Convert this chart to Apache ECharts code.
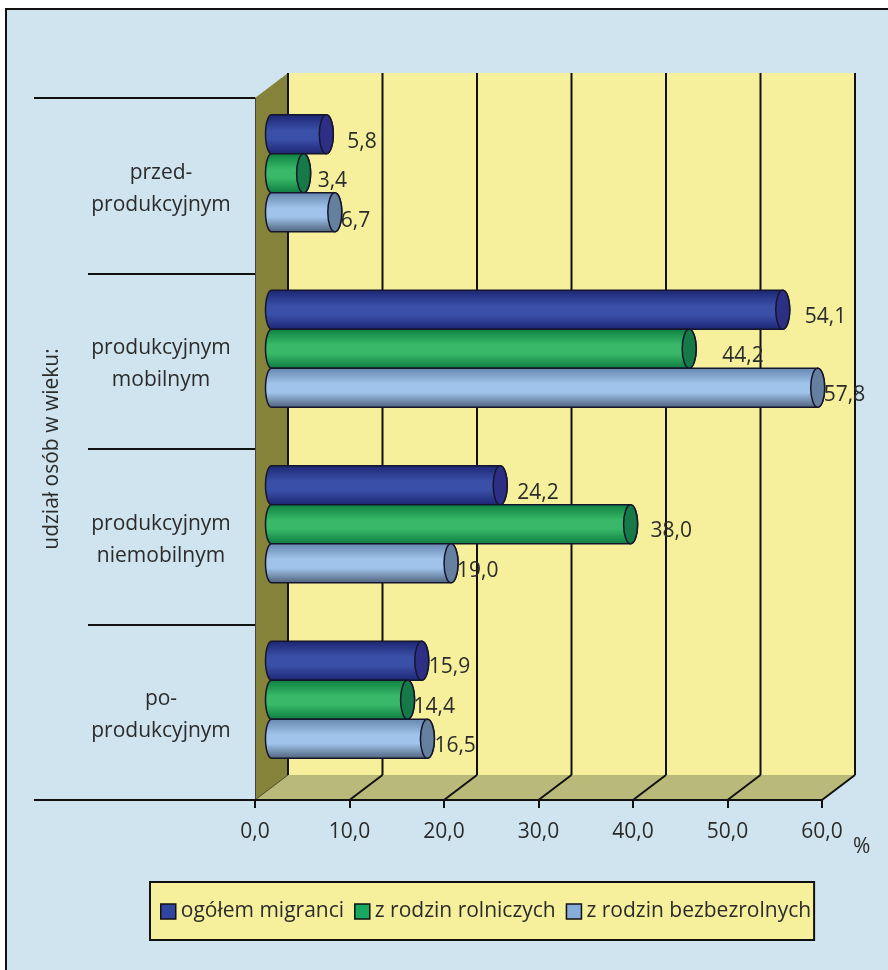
<!DOCTYPE html>
<html>
<head>
<meta charset="utf-8">
<title>udział osób w wieku</title>
<script src="https://cdn.jsdelivr.net/npm/echarts@6/dist/echarts.min.js"></script>
<style>
  html, body { margin: 0; padding: 0; background: #fff; }
  #main { width: 888px; height: 970px; }
</style>
</head>
<body>
<div id="main"></div>
<script>
const categories = ['przed-\nprodukcyjnym', 'produkcyjnym\nmobilnym', 'produkcyjnym\nniemobilnym', 'po-\nprodukcyjnym'];
const seriesNames = ['ogółem migranci', 'z rodzin rolniczych', 'z rodzin bezbezrolnych'];
const ogolem = [5.8, 54.1, 24.2, 15.9];
const rolniczych = [3.4, 44.2, 38.0, 14.4];
const bezrolnych = [6.7, 57.8, 19.0, 16.5];
const xTicks = [0, 10, 20, 30, 40, 50, 60];

const FONT = '"Open Sans"';
const FONT_SIZE = 21;
const TEXT = '#2b2b2b';
const DEPTH_X = 33, DEPTH_Y = 25; // glebokosc "3D" wykresu
const BAR_H = 39, CAP_RX = 7;

// etykiety w oryginale sa rozmieszczone nieregularnie
const labelDx = [[21, 22, 17, 7], [14, 33, 20, 6], [6, 6, 6, 7]];
const labelDy = [[8, 7, 8, 6], [8, 7, 7, 7], [9, 7, 8, 7]];

const looks = [
  { top: '#1b2570', mid: '#3a4fa8', bottom: '#1c2472', cap: '#2d2f85', legend: '#2f45a0' },
  { top: '#0c7f3f', mid: '#38b868', bottom: '#0d7a40', cap: '#157a48', legend: '#18a860' },
  { top: '#6585ad', mid: '#9fc3ea', bottom: '#4d5f78', cap: '#657f9f', legend: '#86aed8' }
];

function fmt(v) {
  return v.toFixed(1).replace('.', ',');
}

// obrys walca: lewy luk + prawy luk
function cylinderPoints(x0, x1, yc) {
  const pts = [];
  const n = 16;
  for (let i = 0; i <= n; i++) {
    const a = -Math.PI / 2 + Math.PI * i / n;
    pts.push([x1 + CAP_RX * Math.cos(a), yc + BAR_H / 2 * Math.sin(a)]);
  }
  for (let i = 0; i <= n; i++) {
    const a = Math.PI / 2 + Math.PI * i / n;
    pts.push([x0 + 6 * Math.cos(a), yc + BAR_H / 2 * Math.sin(a)]);
  }
  return pts;
}

function renderBar(idx) {
  return function (params, api) {
    const look = looks[idx];
    const cat = api.value(1);
    const start = api.coord([0, cat]);
    const end = api.coord([api.value(0), cat]);
    const x0 = start[0] + DEPTH_X / 2;
    const x1 = end[0] + DEPTH_X / 2;
    const yc = end[1] - DEPTH_Y / 2 + (idx - 1) * BAR_H;
    return {
      type: 'group',
      children: [
        {
          type: 'polygon',
          shape: { points: cylinderPoints(x0, x1, yc) },
          style: {
            stroke: '#15152c',
            lineWidth: 1.5,
            fill: new echarts.graphic.LinearGradient(0, 0, 0, 1, [
              { offset: 0, color: look.top },
              { offset: 0.4, color: look.mid },
              { offset: 0.62, color: look.mid },
              { offset: 1, color: look.bottom }
            ])
          }
        },
        {
          type: 'ellipse',
          shape: { cx: x1, cy: yc, rx: CAP_RX, ry: BAR_H / 2 },
          style: { fill: look.cap, stroke: '#15152c', lineWidth: 1.5 }
        },
        {
          type: 'text',
          style: {
            x: x1 + labelDx[idx][cat],
            y: yc + labelDy[idx][cat],
            text: fmt(api.value(0)),
            align: 'left',
            verticalAlign: 'middle',
            fill: TEXT,
            font: FONT_SIZE + 'px ' + FONT
          }
        }
      ]
    };
  };
}

// sciany wykresu, siatka na tylnej scianie, opisy kategorii
function renderWalls(params, api) {
  const r = params.coordSys;
  const left = r.x, top = r.y, right = r.x + r.width, bottom = r.y + r.height;
  const line = (x1, y1, x2, y2, width, color) => ({
    type: 'line',
    shape: { x1, y1, x2, y2 },
    style: { stroke: color || '#111', lineWidth: width || 2 }
  });
  const poly = (points, fill) => ({ type: 'polygon', shape: { points }, style: { fill } });
  const children = [
    poly([[left + DEPTH_X, top - DEPTH_Y], [right + DEPTH_X, top - DEPTH_Y], [right + DEPTH_X, bottom - DEPTH_Y], [left + DEPTH_X, bottom - DEPTH_Y]], '#f6f09c'),
    poly([[left, top], [left + DEPTH_X, top - DEPTH_Y], [left + DEPTH_X, bottom - DEPTH_Y], [left, bottom]], '#85823a'),
    poly([[left, bottom], [left + DEPTH_X, bottom - DEPTH_Y], [right + DEPTH_X, bottom - DEPTH_Y], [right, bottom]], '#b9ba7a'),
    line(left - 221, top, left - 167, top),
    line(left - 221, bottom, left - 167, bottom)
  ];
  xTicks.forEach(function (t) {
    const x = api.coord([t, 0])[0];
    children.push(line(x + DEPTH_X, top - DEPTH_Y, x + DEPTH_X, bottom - DEPTH_Y));
    children.push(line(x, bottom, x + DEPTH_X, bottom - DEPTH_Y, t === 0 ? 1 : 2, t === 0 ? '#4a4a20' : '#111'));
  });
  categories.forEach(function (name, i) {
    children.push({
      type: 'text',
      style: {
        x: left - 94,
        y: api.coord([0, i])[1] + 3,
        text: name,
        align: 'center',
        verticalAlign: 'middle',
        lineHeight: 32,
        fill: TEXT,
        font: FONT_SIZE + 'px ' + FONT
      }
    });
  });
  return { type: 'group', children };
}

const barData = [ogolem, rolniczych, bezrolnych];

const option = {
  animation: false,
  textStyle: { fontFamily: FONT },
  graphic: [
    {
      type: 'rect',
      z: -10,
      shape: { x: 6, y: 9, width: 890, height: 970 },
      style: { fill: '#cfe4ef', stroke: '#111', lineWidth: 2 }
    },
    {
      type: 'text',
      left: 853,
      top: 837,
      style: { text: '%', fill: TEXT, font: FONT_SIZE + 'px ' + FONT }
    }
  ],
  grid: { left: 255, top: 98, width: 567, height: 702 },
  xAxis: {
    type: 'value',
    min: 0,
    max: 60,
    interval: 10,
    z: 5,
    axisLine: { show: true, onZero: false, lineStyle: { color: '#111', width: 2 } },
    axisTick: { show: true, length: 8, lineStyle: { color: '#111', width: 2 } },
    axisLabel: { formatter: fmt, margin: 22, color: TEXT, fontSize: FONT_SIZE, fontFamily: FONT },
    splitLine: { show: false }
  },
  yAxis: {
    type: 'category',
    data: categories,
    inverse: true,
    z: 5,
    name: 'udział osób w wieku:',
    nameLocation: 'middle',
    nameGap: 192,
    nameRotate: 90,
    nameTextStyle: { color: TEXT, fontSize: FONT_SIZE, fontFamily: FONT },
    axisLine: { show: true, lineStyle: { color: '#444', width: 1 } },
    axisTick: { show: true, length: 167, lineStyle: { color: '#111', width: 2 } },
    axisLabel: { show: false }
  },
  legend: {
    data: seriesNames,
    left: 150,
    top: 882,
    padding: [19, 3, 18, 10],
    backgroundColor: '#f6f09c',
    borderColor: '#111',
    borderWidth: 2,
    borderRadius: 0,
    icon: 'rect',
    itemWidth: 15,
    itemHeight: 15,
    itemGap: 10,
    selectedMode: false,
    textStyle: { color: TEXT, fontSize: FONT_SIZE, fontFamily: FONT },
    itemStyle: { borderColor: '#111', borderWidth: 1.5 }
  },
  series: [
    {
      name: 'tlo',
      type: 'custom',
      silent: true,
      z: 1,
      data: [[0, 0]],
      encode: { x: 0, y: 1 },
      renderItem: renderWalls
    }
  ].concat(barData.map(function (values, idx) {
    return {
      name: seriesNames[idx],
      type: 'custom',
      z: 2 + idx,
      itemStyle: { color: looks[idx].legend },
      data: values.map(function (v, i) { return [v, i]; }),
      encode: { x: 0, y: 1 },
      renderItem: renderBar(idx)
    };
  }))
};

const chart = echarts.init(document.getElementById('main'), null, { renderer: 'canvas' });
chart.setOption(option);
</script>
</body>
</html>
